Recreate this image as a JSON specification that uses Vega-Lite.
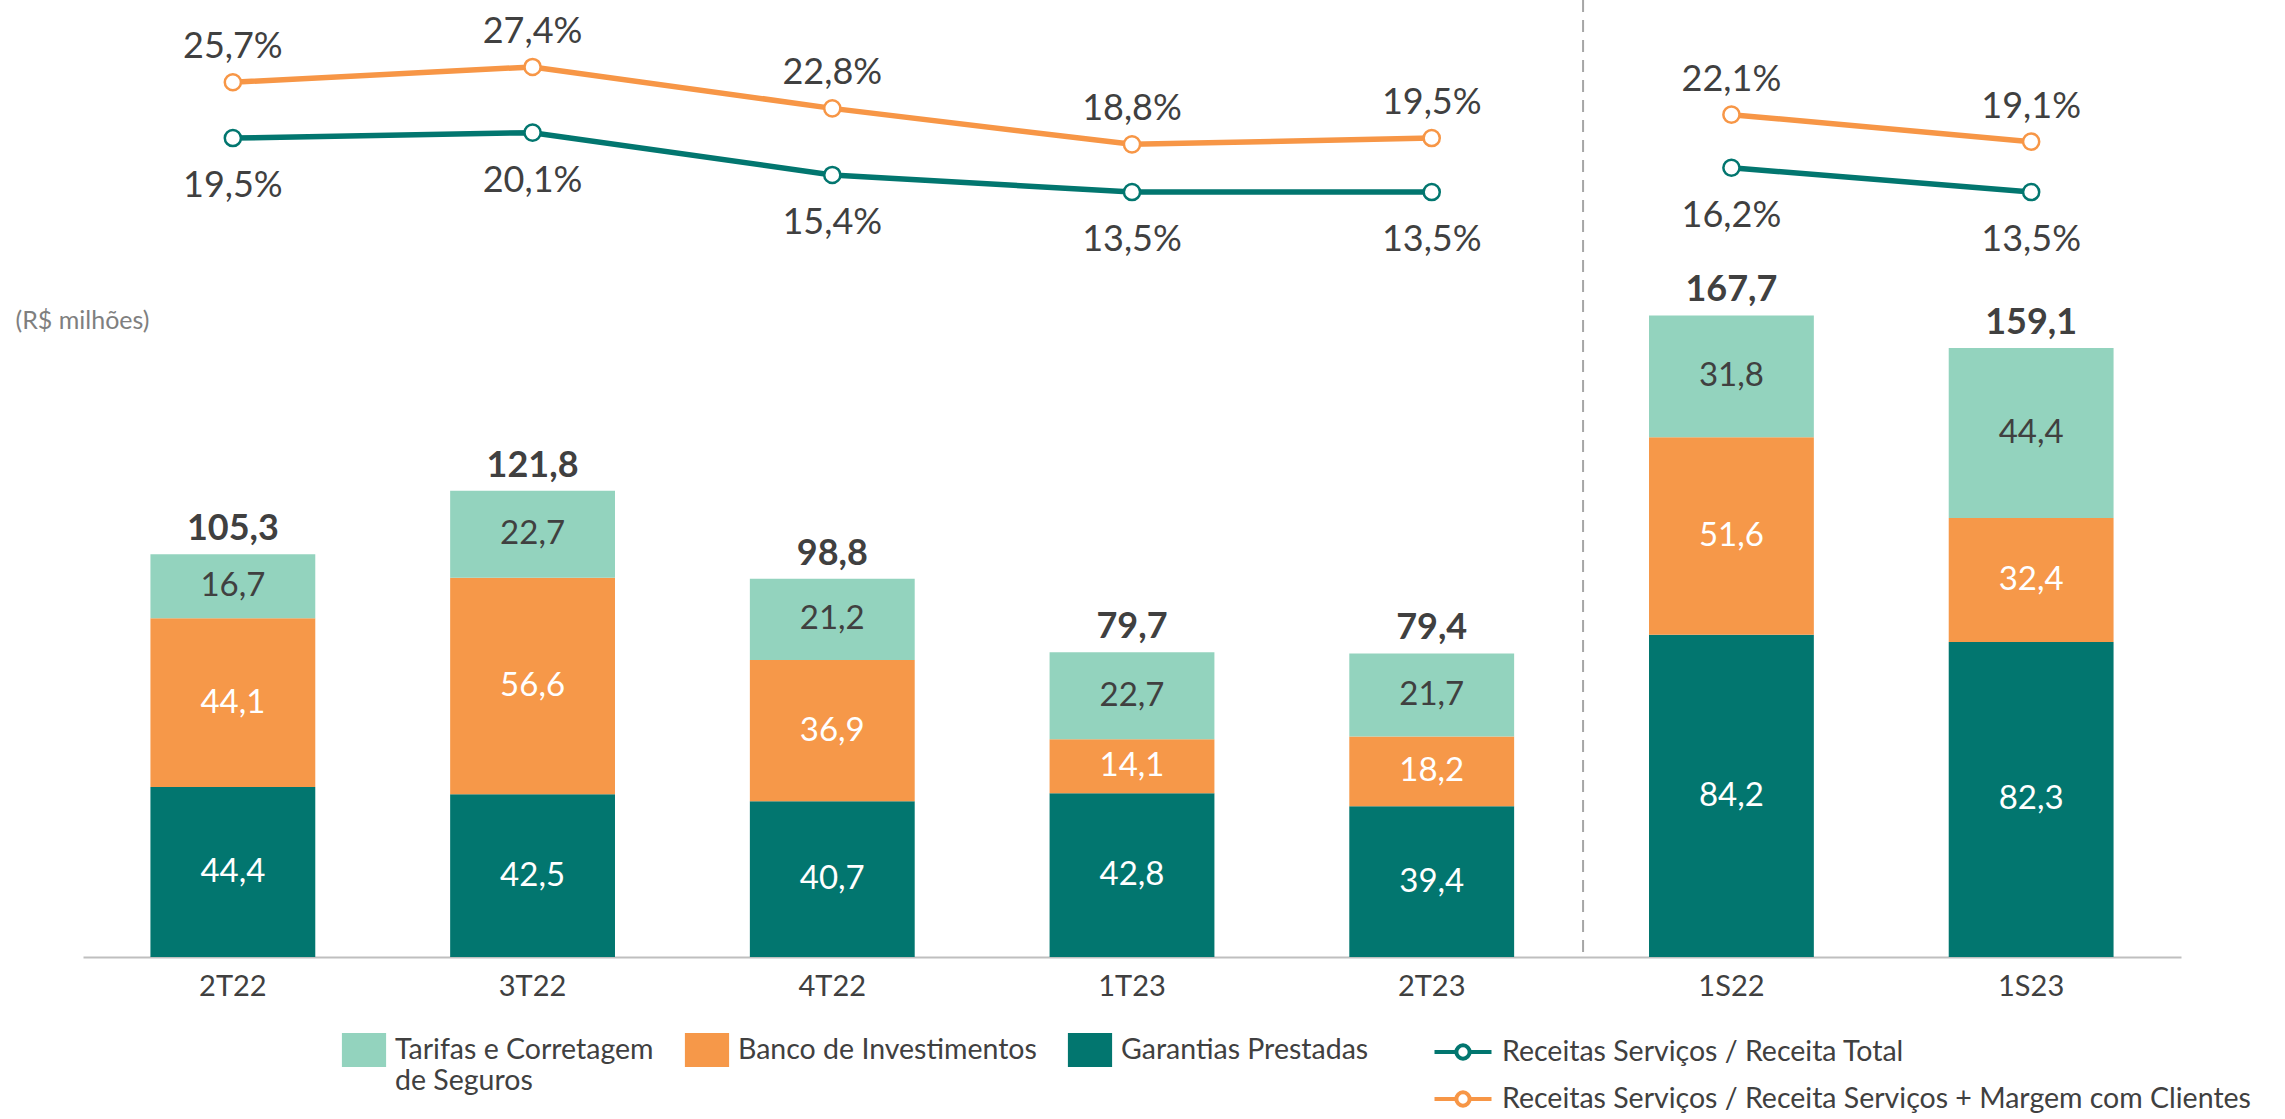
{
  "$schema": "https://vega.github.io/schema/vega-lite/v6.json",
  "width": 2098,
  "height": 957,
  "autosize": {"type": "none"},
  "padding": {"left": 83, "top": 0, "right": 104, "bottom": 162},
  "config": {
    "view": {"stroke": null},
    "font": "Lato",
    "locale": {"number": {"decimal": ",", "thousands": ".", "grouping": [3], "currency": ["R$ ", ""]}}
  },
  "datasets": {
    "seg": [
      {"periodo": "2T22", "serie": "Garantias Prestadas", "valor": 44.4},
      {"periodo": "2T22", "serie": "Banco de Investimentos", "valor": 44.1},
      {"periodo": "2T22", "serie": "Tarifas e Corretagem de Seguros", "valor": 16.7},
      {"periodo": "3T22", "serie": "Garantias Prestadas", "valor": 42.5},
      {"periodo": "3T22", "serie": "Banco de Investimentos", "valor": 56.6},
      {"periodo": "3T22", "serie": "Tarifas e Corretagem de Seguros", "valor": 22.7},
      {"periodo": "4T22", "serie": "Garantias Prestadas", "valor": 40.7},
      {"periodo": "4T22", "serie": "Banco de Investimentos", "valor": 36.9},
      {"periodo": "4T22", "serie": "Tarifas e Corretagem de Seguros", "valor": 21.2},
      {"periodo": "1T23", "serie": "Garantias Prestadas", "valor": 42.8},
      {"periodo": "1T23", "serie": "Banco de Investimentos", "valor": 14.1},
      {"periodo": "1T23", "serie": "Tarifas e Corretagem de Seguros", "valor": 22.7},
      {"periodo": "2T23", "serie": "Garantias Prestadas", "valor": 39.4},
      {"periodo": "2T23", "serie": "Banco de Investimentos", "valor": 18.2},
      {"periodo": "2T23", "serie": "Tarifas e Corretagem de Seguros", "valor": 21.7},
      {"periodo": "1S22", "serie": "Garantias Prestadas", "valor": 84.2},
      {"periodo": "1S22", "serie": "Banco de Investimentos", "valor": 51.6},
      {"periodo": "1S22", "serie": "Tarifas e Corretagem de Seguros", "valor": 31.8},
      {"periodo": "1S23", "serie": "Garantias Prestadas", "valor": 82.3},
      {"periodo": "1S23", "serie": "Banco de Investimentos", "valor": 32.4},
      {"periodo": "1S23", "serie": "Tarifas e Corretagem de Seguros", "valor": 44.4}
    ],
    "tot": [
      {"periodo": "2T22", "total": 105.3},
      {"periodo": "3T22", "total": 121.8},
      {"periodo": "4T22", "total": 98.8},
      {"periodo": "1T23", "total": 79.7},
      {"periodo": "2T23", "total": 79.4},
      {"periodo": "1S22", "total": 167.7},
      {"periodo": "1S23", "total": 159.1}
    ],
    "pct": [
      {"periodo": "2T22", "grupo": "T", "serie": "Receitas Serviços / Receita Total", "valor": 0.195},
      {"periodo": "3T22", "grupo": "T", "serie": "Receitas Serviços / Receita Total", "valor": 0.201},
      {"periodo": "4T22", "grupo": "T", "serie": "Receitas Serviços / Receita Total", "valor": 0.154},
      {"periodo": "1T23", "grupo": "T", "serie": "Receitas Serviços / Receita Total", "valor": 0.135},
      {"periodo": "2T23", "grupo": "T", "serie": "Receitas Serviços / Receita Total", "valor": 0.135},
      {"periodo": "1S22", "grupo": "S", "serie": "Receitas Serviços / Receita Total", "valor": 0.162},
      {"periodo": "1S23", "grupo": "S", "serie": "Receitas Serviços / Receita Total", "valor": 0.135},
      {"periodo": "2T22", "grupo": "T", "serie": "Receitas Serviços / Receita Serviços + Margem com Clientes", "valor": 0.257},
      {"periodo": "3T22", "grupo": "T", "serie": "Receitas Serviços / Receita Serviços + Margem com Clientes", "valor": 0.274},
      {"periodo": "4T22", "grupo": "T", "serie": "Receitas Serviços / Receita Serviços + Margem com Clientes", "valor": 0.228},
      {"periodo": "1T23", "grupo": "T", "serie": "Receitas Serviços / Receita Serviços + Margem com Clientes", "valor": 0.188},
      {"periodo": "2T23", "grupo": "T", "serie": "Receitas Serviços / Receita Serviços + Margem com Clientes", "valor": 0.195},
      {"periodo": "1S22", "grupo": "S", "serie": "Receitas Serviços / Receita Serviços + Margem com Clientes", "valor": 0.221},
      {"periodo": "1S23", "grupo": "S", "serie": "Receitas Serviços / Receita Serviços + Margem com Clientes", "valor": 0.191}
    ]
  },
  "layer": [
    {
      "data": {"name": "seg"},
      "transform": [
        {"window": [{"op": "row_number", "as": "idx"}]},
        {"stack": "valor", "groupby": ["periodo"], "sort": [{"field": "idx", "order": "ascending"}], "as": ["v0", "v1"]}
      ],
      "layer": [
        {
          "mark": {"type": "bar"},
          "encoding": {
            "x": {
              "field": "periodo",
              "type": "nominal",
              "sort": ["2T22", "3T22", "4T22", "1T23", "2T23", "1S22", "1S23"],
              "scale": {"paddingInner": 0.45, "paddingOuter": 0.225},
              "axis": {
                "title": null,
                "labelAngle": 0,
                "labelFontSize": 29,
                "labelColor": "#404040",
                "ticks": false,
                "domainColor": "#BFBFBF",
                "domainWidth": 2,
                "labelPadding": 15
              }
            },
            "y": {
              "field": "v1",
              "type": "quantitative",
              "scale": {"domain": [0, 250], "nice": false, "zero": true},
              "axis": {"title": "(R$ milhões)", "titleAngle": 0, "titleX": -68, "titleY": 320, "titleAlign": "left", "titleBaseline": "middle", "titleFontWeight": "normal", "titleFontSize": 25, "titleColor": "#7F7F7F", "labels": false, "ticks": false, "domain": false, "grid": false}
            },
            "y2": {"field": "v0"},
            "color": {
              "field": "serie",
              "type": "nominal",
              "scale": {
                "domain": ["Tarifas e Corretagem de Seguros", "Banco de Investimentos", "Garantias Prestadas"],
                "range": ["#93D3BE", "#F69849", "#02766F"]
              },
              "legend": {
                "orient": "none",
                "legendX": 264,
                "legendY": 1033,
                "direction": "horizontal",
                "title": null,
                "padding": 0,
                "symbolType": "M-1.3,-1H1.3V1H-1.3Z",
                "symbolSize": 1156,
                "symbolStrokeWidth": 0,
                "labelFontSize": 28.5,
                "labelColor": "#404040",
                "labelOffset": 14,
                "labelLimit": 0,
                "columnPadding": 30,
                "labelExpr": "datum.label == 'Tarifas e Corretagem de Seguros' ? ['Tarifas e Corretagem', 'de Seguros'] : [datum.label, '']"
              }
            }
          }
        },
        {
          "transform": [
            {"fold": ["v0", "v1"], "as": ["k", "v"]},
            {"aggregate": [{"op": "mean", "field": "v", "as": "meio"}], "groupby": ["periodo", "serie", "valor"]}
          ],
          "mark": {"type": "text", "fontSize": 33, "baseline": "middle"},
          "encoding": {
            "x": {"field": "periodo", "type": "nominal", "sort": ["2T22", "3T22", "4T22", "1T23", "2T23", "1S22", "1S23"]},
            "y": {"field": "meio", "type": "quantitative"},
            "text": {"field": "valor", "type": "quantitative", "format": ".1f"},
            "color": {"condition": {"test": "datum.serie === 'Tarifas e Corretagem de Seguros'", "value": "#404040"}, "value": "white"}
          }
        },
        {
          "data": {"name": "tot"},
          "mark": {"type": "text", "fontSize": 36, "fontWeight": "bold", "baseline": "alphabetic", "dy": -14, "color": "#404040"},
          "encoding": {
            "x": {"field": "periodo", "type": "nominal", "sort": ["2T22", "3T22", "4T22", "1T23", "2T23", "1S22", "1S23"]},
            "y": {"field": "total", "type": "quantitative"},
            "text": {"field": "total", "type": "quantitative", "format": ".1f"}
          }
        }
      ]
    },
    {
      "data": {"name": "pct"},
      "encoding": {
        "x": {"field": "periodo", "type": "nominal", "sort": ["2T22", "3T22", "4T22", "1T23", "2T23", "1S22", "1S23"]}
      },
      "layer": [
        {
          "transform": [{"filter": "datum.periodo === '1S22' && datum.grupo === 'S' && datum.valor < 0.2"}],
          "mark": {"type": "rule", "strokeDash": [12, 8], "color": "#A6A6A6", "strokeWidth": 2},
          "encoding": {
            "x": {"field": "periodo", "type": "nominal", "sort": ["2T22", "3T22", "4T22", "1T23", "2T23", "1S22", "1S23"], "bandPosition": -0.4}
          }
        },
        {
          "mark": {"type": "line", "strokeWidth": 5.5},
          "encoding": {
            "y": {"field": "valor", "type": "quantitative", "scale": {"domain": [-0.715, 0.3484], "nice": false, "zero": false}, "axis": null},
            "detail": {"field": "grupo"},
            "color": {
              "field": "serie",
              "type": "nominal",
              "scale": {
                "domain": ["Receitas Serviços / Receita Total", "Receitas Serviços / Receita Serviços + Margem com Clientes"],
                "range": ["#02766F", "#F79646"]
              },
              "legend": {
                "orient": "none",
                "legendX": 1359,
                "legendY": 1031,
                "direction": "vertical",
                "title": null,
                "padding": 0,
                "symbolType": "M-1.5,0H-0.35M0.35,0H1.5M0.35,0A0.35,0.35 0 1 1 -0.35,0A0.35,0.35 0 1 1 0.35,0",
                "symbolSize": 1444,
                "symbolStrokeWidth": 4,
                "symbolFillColor": "white",
                "labelFontSize": 28.5,
                "labelColor": "#404040",
                "labelOffset": 18,
                "labelLimit": 0,
                "rowPadding": 11
              }
            }
          }
        },
        {
          "mark": {"type": "point", "shape": "circle", "filled": false, "fill": "white", "size": 260, "strokeWidth": 2.5, "opacity": 1},
          "encoding": {
            "y": {"field": "valor", "type": "quantitative"},
            "color": {"field": "serie", "type": "nominal", "legend": null}
          }
        },
        {
          "transform": [{"filter": "datum.serie === 'Receitas Serviços / Receita Serviços + Margem com Clientes'"}],
          "mark": {"type": "text", "fontSize": 36, "baseline": "alphabetic", "dy": -24, "color": "#404040"},
          "encoding": {
            "y": {"field": "valor", "type": "quantitative"},
            "text": {"field": "valor", "type": "quantitative", "format": ".1%"}
          }
        },
        {
          "transform": [{"filter": "datum.serie === 'Receitas Serviços / Receita Total'"}],
          "mark": {"type": "text", "fontSize": 36, "baseline": "top", "dy": 31, "color": "#404040"},
          "encoding": {
            "y": {"field": "valor", "type": "quantitative"},
            "text": {"field": "valor", "type": "quantitative", "format": ".1%"}
          }
        }
      ]
    }
  ],
  "resolve": {"scale": {"y": "independent", "color": "independent"}}
}
